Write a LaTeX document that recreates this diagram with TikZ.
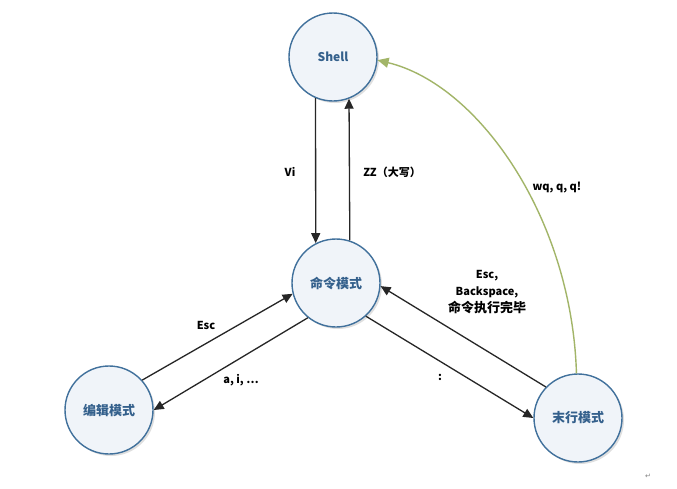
\documentclass[tikz,border=0pt]{standalone}
\usepackage{fontspec}
\setmainfont{Noto Sans CJK SC}
\newfontfamily\symfont{DejaVu Sans}
\usetikzlibrary{arrows.meta,shadows}
\definecolor{ringblue}{RGB}{65,113,156}
\definecolor{txtblue}{RGB}{52,96,140}
\definecolor{fillc}{RGB}{240,244,249}
\definecolor{curvegreen}{RGB}{162,181,104}
\begin{document}
\begin{tikzpicture}[x=1pt,y=-1pt,
  state/.style={circle,draw=ringblue,line width=1.4pt,fill=fillc,minimum size=88pt,inner sep=0pt,
    font=\bfseries\fontsize{13}{15}\selectfont,text=txtblue,
    drop shadow={shadow xshift=2pt,shadow yshift=-2pt,opacity=0.25,fill=black!50}},
  link/.style={draw=black!85,line width=1.3pt,-{Triangle[length=10pt,width=9pt]}},
  greenlink/.style={draw=curvegreen,line width=1.4pt,-{Triangle[length=11pt,width=10pt]}},
  lbl/.style={font=\bfseries\fontsize{11}{17}\selectfont,text=black,inner sep=1pt}]
\useasboundingbox (0,0) rectangle (677,488);
\fill[white] (0,0) rectangle (677,488);

\node[state] (shell) at (333,57) {\fontsize{12}{14}\selectfont Shell};
\node[state] (cmd) at (336,283) {命令模式};
\node[state] (edit) at (109,410) {编辑模式};
\node[state] (last) at (578,418) {末行模式};

\draw[link] (shell.247.3) -- (cmd.117);
\draw[link] (cmd.72.8) -- (shell.291.3);
\draw[link] (cmd.231) -- (edit.0);
\draw[link] (edit.42) -- (cmd.194);
\draw[link] (cmd.312) -- (last.180);
\draw[link] (last.136) -- (cmd.356);
\draw[greenlink] (last.92) .. controls (572,220) and (480,85) .. (shell.356);

\node[lbl] (lvi) at (290,172) {Vi};
\node[lbl] (lzz) at (392,172) {ZZ（大写）};
\node[lbl] (lwq) at (557,188) {wq, q, q!};
\node[lbl,align=center] (lback) at (487,292) {Esc,\\Backspace,\\{\fontsize{13}{17}\selectfont 命令执行完毕}};
\node[lbl] (lesc) at (206,325) {Esc};
\node[lbl] (lai) at (241,380) {a, i, …};
\node[lbl] (lcolon) at (440,377) {:};
\node[text=black!50,inner sep=0pt] (pm) at (648,476) {\symfont\fontsize{7}{8}\selectfont ↵};
\end{tikzpicture}
\end{document}
